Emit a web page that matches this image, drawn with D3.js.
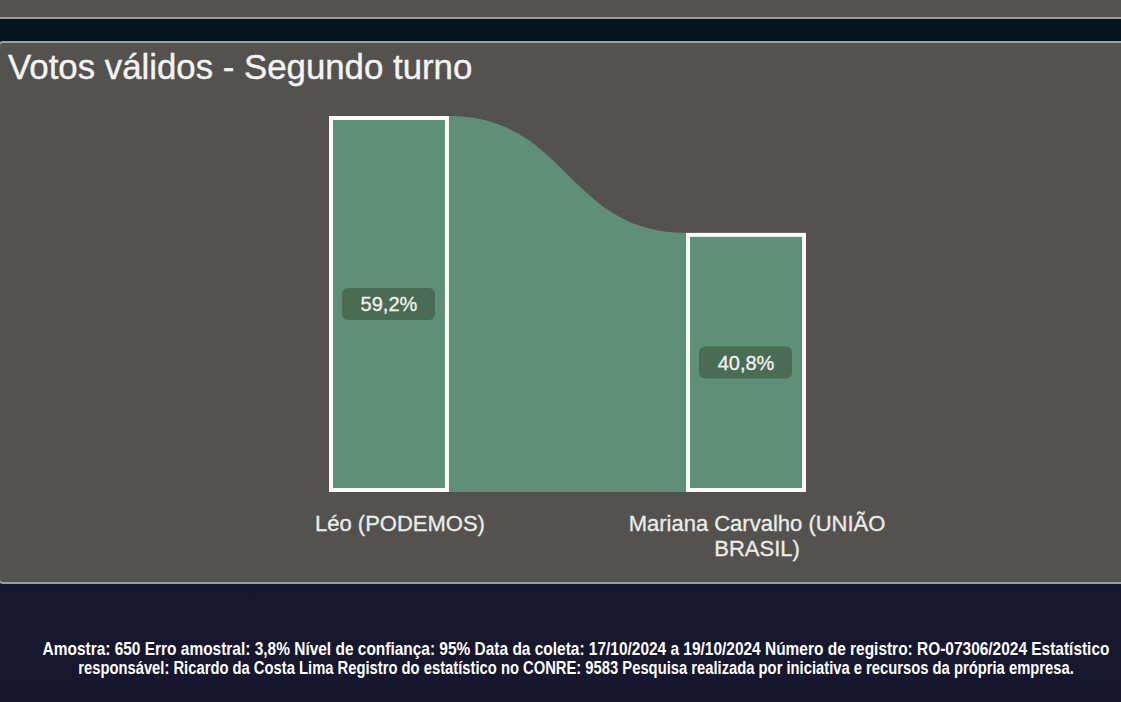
<!DOCTYPE html>
<html><head><meta charset="utf-8">
<script src="https://cdn.jsdelivr.net/npm/d3@7"></script>
<style>html,body{margin:0;padding:0;background:#16162d;overflow:hidden}</style>
</head><body>
<script>
const categories = ["Léo (PODEMOS)", "Mariana Carvalho (UNIÃO BRASIL)"];
const categoryLines = [["Léo (PODEMOS)"], ["Mariana Carvalho (UNIÃO", "BRASIL)"]];
const values = [59.2, 40.8];
const valueLabels = ["59,2%", "40,8%"];
const title = "Votos válidos - Segundo turno";
const footerLines = [
  "Amostra: 650 Erro amostral: 3,8% Nível de confiança: 95% Data da coleta: 17/10/2024 a 19/10/2024 Número de registro: RO-07306/2024 Estatístico",
  "responsável: Ricardo da Costa Lima Registro do estatístico no CONRE: 9583 Pesquisa realizada por iniciativa e recursos da própria empresa."
];

const W = 1121, H = 702;
const svg = d3.select("body").append("svg").attr("width", W).attr("height", H);
const defs = svg.append("defs");
const grad = defs.append("linearGradient").attr("id","navy").attr("x1",0).attr("y1",0).attr("x2",0).attr("y2",1);
grad.append("stop").attr("offset","0%").attr("stop-color","#0a1d25");
grad.append("stop").attr("offset","25%").attr("stop-color","#131a2c");
grad.append("stop").attr("offset","100%").attr("stop-color","#17162e");

// backgrounds
svg.append("rect").attr("x",0).attr("y",0).attr("width",W).attr("height",H).attr("fill","url(#navy)");
svg.append("rect").attr("x",-4).attr("y",-10).attr("width",W+8).attr("height",28).attr("rx",4).attr("fill","#53524e").attr("stroke","#9d9d9b").attr("stroke-width",2);
svg.append("rect").attr("x",0).attr("y",19).attr("width",W).attr("height",22).attr("fill","#03141c");
svg.append("rect").attr("x",-1).attr("y",42).attr("width",W+8).attr("height",541).attr("rx",4).attr("fill","#53524e").attr("stroke","#9d9d9b").attr("stroke-width",2);

// title
svg.append("text").attr("x",8).attr("y",79).text(title)
  .attr("font-family","Liberation Sans, Arial, sans-serif").attr("font-size",34.8).attr("fill","#f4f4f2")
  .attr("stroke","#f4f4f2").attr("stroke-width",0.4);

// scales
const x = d3.scaleBand().domain(categories).range([329, 806]).paddingInner(0.664).paddingOuter(0);
const y = d3.scaleLinear().domain([0, d3.max(values)]).range([492, 116]);
const data = categories.map((c,i)=>({c, v: values[i], label: valueLabels[i], lines: categoryLines[i]}));
const green = "#5f8f76";

// link
const s = data[0], t = data[1];
const link = d3.linkHorizontal().x(d=>d[0]).y(d=>d[1]);
const topPath = link({source:[x(s.c)+x.bandwidth(), y(s.v)], target:[x(t.c), y(t.v)]});
const linkPath = topPath + `L${x(t.c)},${y(0)}L${x(s.c)+x.bandwidth()},${y(0)}Z`;
svg.append("path").attr("d", linkPath).attr("fill", green);

// bars
const sw = 4;
svg.selectAll("rect.bar").data(data).enter().append("rect").attr("class","bar")
  .attr("x", d=>x(d.c)+sw/2).attr("y", d=>y(d.v)+sw/2)
  .attr("width", x.bandwidth()-sw).attr("height", d=>y(0)-y(d.v)-sw)
  .attr("fill", green).attr("stroke","#fbfbf8").attr("stroke-width",sw);

// value labels
const lg = svg.selectAll("g.vl").data(data).enter().append("g").attr("class","vl")
  .attr("transform", d=>`translate(${x(d.c)+x.bandwidth()/2},${(y(d.v)+y(0))/2})`);
lg.append("rect").attr("x",-47).attr("y",-16).attr("width",93).attr("height",32).attr("rx",6).attr("fill","#4a6c54");
lg.append("text").attr("text-anchor","middle").attr("dy","0.36em").text(d=>d.label)
  .attr("font-family","Liberation Sans, Arial, sans-serif").attr("font-size",20).attr("fill","#f2f2ee")
  .attr("stroke","#f2f2ee").attr("stroke-width",0.3);

// category labels
const cg = svg.selectAll("text.cat").data(data).enter().append("text").attr("class","cat")
  .attr("text-anchor","middle").attr("font-family","Liberation Sans, Arial, sans-serif")
  .attr("font-size",22).attr("fill","#ececea").attr("stroke","#ececea").attr("stroke-width",0.3)
  .attr("transform", d=>`translate(${x(d.c)+x.bandwidth()/2+11},${y(0)+39})`);
cg.selectAll("tspan").data(d=>d.lines).enter().append("tspan")
  .attr("x",0).attr("dy",(d,i)=>i===0?0:25).text(d=>d);

// footer: centred lines, horizontally condensed to the reference widths
const fw = [[42,1110],[78,1074]];
const fy = [655, 674];
svg.selectAll("text.foot").data(footerLines).enter().append("text").attr("class","foot")
  .attr("text-anchor","middle")
  .attr("font-family","Liberation Sans Narrow, Liberation Sans, Arial, sans-serif")
  .attr("font-weight","bold").attr("font-size",17.5).attr("fill","#ffffff").text(d=>d)
  .each(function(d,i){
    const natural = this.getComputedTextLength();
    const target = fw[i][1]-fw[i][0];
    const sx = Math.min(1, target/natural);
    d3.select(this).attr("transform", `translate(${(fw[i][0]+fw[i][1])/2},${fy[i]}) scale(${sx},1)`);
  });
</script>
</body></html>
